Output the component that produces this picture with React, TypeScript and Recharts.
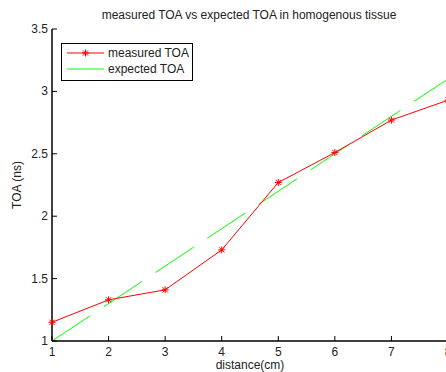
import React from "react";
import { LineChart, Line, XAxis, YAxis, Legend } from "recharts";

const distance = [1, 2, 3, 4, 5, 6, 7, 8];
const measuredTOA = [1.15, 1.33, 1.41, 1.73, 2.27, 2.51, 2.77, 2.93];
const expectedTOA = [1.0, 1.3, 1.6, 1.9, 2.2, 2.5, 2.8, 3.1];
const xTicks = [1, 2, 3, 4, 5, 6, 7, 8];
const yTicks = [1, 1.5, 2, 2.5, 3, 3.5];

const data = distance.map((d, i) => ({
  distance: d,
  measured: measuredTOA[i],
  expected: expectedTOA[i],
}));

const FONT = "'Liberation Sans', Arial, Helvetica, sans-serif";
const FS = 12;
const TICK = 5;

const BottomTick = (props: any) => {
  const { x, y, payload } = props;
  return (
    <g>
      <line x1={x} x2={x} y1={y} y2={y - TICK} stroke="#000" />
      <text x={x} y={y + 15} textAnchor="middle" fontFamily={FONT} fontSize={FS} fill="#222">
        {payload.value}
      </text>
    </g>
  );
};

const TopTick = (props: any) => {
  const { x, y } = props;
  return <line x1={x} x2={x} y1={y} y2={y + TICK} stroke="#000" />;
};

const LeftTick = (props: any) => {
  const { x, y, payload } = props;
  return (
    <g>
      <line x1={x} x2={x + TICK} y1={y} y2={y} stroke="#000" />
      <text x={x - 4} y={y + 4} textAnchor="end" fontFamily={FONT} fontSize={FS} fill="#222">
        {payload.value}
      </text>
    </g>
  );
};

const RightTick = (props: any) => {
  const { x, y } = props;
  return <line x1={x} x2={x - TICK} y1={y} y2={y} stroke="#000" />;
};

const Star = (props: any) => {
  const { cx, cy, index } = props;
  if (cx == null || cy == null) return <g key={index} />;
  const r = 3.5;
  const d = 2.6;
  return (
    <g key={index} stroke="#ff0000" strokeWidth={1}>
      <line x1={cx - r} x2={cx + r} y1={cy} y2={cy} />
      <line x1={cx} x2={cx} y1={cy - r} y2={cy + r} />
      <line x1={cx - d} x2={cx + d} y1={cy - d} y2={cy + d} />
      <line x1={cx - d} x2={cx + d} y1={cy + d} y2={cy - d} />
    </g>
  );
};

const LegendBox = () => (
  <div
    style={{
      width: 130,
      height: 36,
      border: "1px solid #000",
      background: "#fff",
      position: "relative",
    }}
  >
    <svg width={130} height={36} style={{ position: "absolute", left: 0, top: 0 }}>
      <line x1={5} x2={42} y1={9} y2={9} stroke="#ff0000" />
      <Star cx={23.5} cy={9} index={0} />
      <line x1={5} x2={42} y1={25} y2={25} stroke="#00ff00" />
      <text x={46} y={13} fontFamily={FONT} fontSize={FS} fill="#222">measured TOA</text>
      <text x={46} y={29} fontFamily={FONT} fontSize={FS} fill="#222">expected TOA</text>
    </svg>
  </div>
);

export default function App() {
  return (
    <div
      style={{
        position: "absolute",
        left: 0,
        top: 0,
        width: 446,
        height: 372,
        overflow: "hidden",
        background: "#fff",
      }}
    >
      <div
        style={{
          position: "absolute",
          left: 0,
          width: 498,
          top: 8,
          textAlign: "center",
          fontFamily: FONT,
          fontSize: FS,
          lineHeight: "14px",
          color: "#222",
        }}
      >
        measured TOA vs expected TOA in homogenous tissue
      </div>
      <LineChart
        width={452}
        height={372}
        data={data}
        margin={{ top: 29, right: 4, bottom: 0, left: 0 }}
      >
        <XAxis
          xAxisId="bottom"
          dataKey="distance"
          type="number"
          domain={[1, 8]}
          ticks={xTicks}
          height={31}
          tickSize={0}
          tickMargin={0}
          tickLine={false}
          tick={<BottomTick />}
          axisLine={{ stroke: "#000", strokeWidth: 1.5 }}
          interval={0}
          label={{
            value: "distance(cm)",
            position: "insideBottom",
            offset: 3,
            style: { fontFamily: FONT, fontSize: FS, fill: "#222" },
          }}
        />
        <XAxis
          xAxisId="top"
          orientation="top"
          dataKey="distance"
          type="number"
          domain={[1, 8]}
          ticks={xTicks}
          height={0}
          tickSize={0}
          tickMargin={0}
          tickLine={false}
          tick={<TopTick />}
          axisLine={{ stroke: "#000", strokeWidth: 1.5 }}
          interval={0}
        />
        <YAxis
          yAxisId="left"
          type="number"
          domain={[1, 3.5]}
          ticks={yTicks}
          width={52}
          tickSize={0}
          tickMargin={0}
          tickLine={false}
          tick={<LeftTick />}
          axisLine={{ stroke: "#000", strokeWidth: 1.5 }}
          interval={0}
          label={{
            value: "TOA (ns)",
            angle: -90,
            position: "insideLeft",
            offset: 17,
            style: { fontFamily: FONT, fontSize: FS, fill: "#222", textAnchor: "middle" },
          }}
        />
        <YAxis
          yAxisId="right"
          orientation="right"
          type="number"
          domain={[1, 3.5]}
          ticks={yTicks}
          width={0}
          tickSize={0}
          tickMargin={0}
          tickLine={false}
          tick={<RightTick />}
          axisLine={{ stroke: "#000", strokeWidth: 1.5 }}
          interval={0}
        />
        <Legend
          layout="vertical"
          align="center"
          verticalAlign="middle"
          wrapperStyle={{ left: 61, top: 43, width: 132, height: 38 }}
          content={<LegendBox />}
        />
        <Line
          xAxisId="bottom"
          yAxisId="left"
          type="linear"
          dataKey="expected"
          name="expected TOA"
          stroke="#00ff00"
          strokeWidth={1}
          strokeDasharray="46 16"
          dot={false}
          activeDot={false}
          isAnimationActive={false}
        />
        <Line
          xAxisId="bottom"
          yAxisId="left"
          type="linear"
          dataKey="measured"
          name="measured TOA"
          stroke="#ff0000"
          strokeWidth={1}
          dot={<Star />}
          activeDot={false}
          isAnimationActive={false}
        />
      </LineChart>
    </div>
  );
}
